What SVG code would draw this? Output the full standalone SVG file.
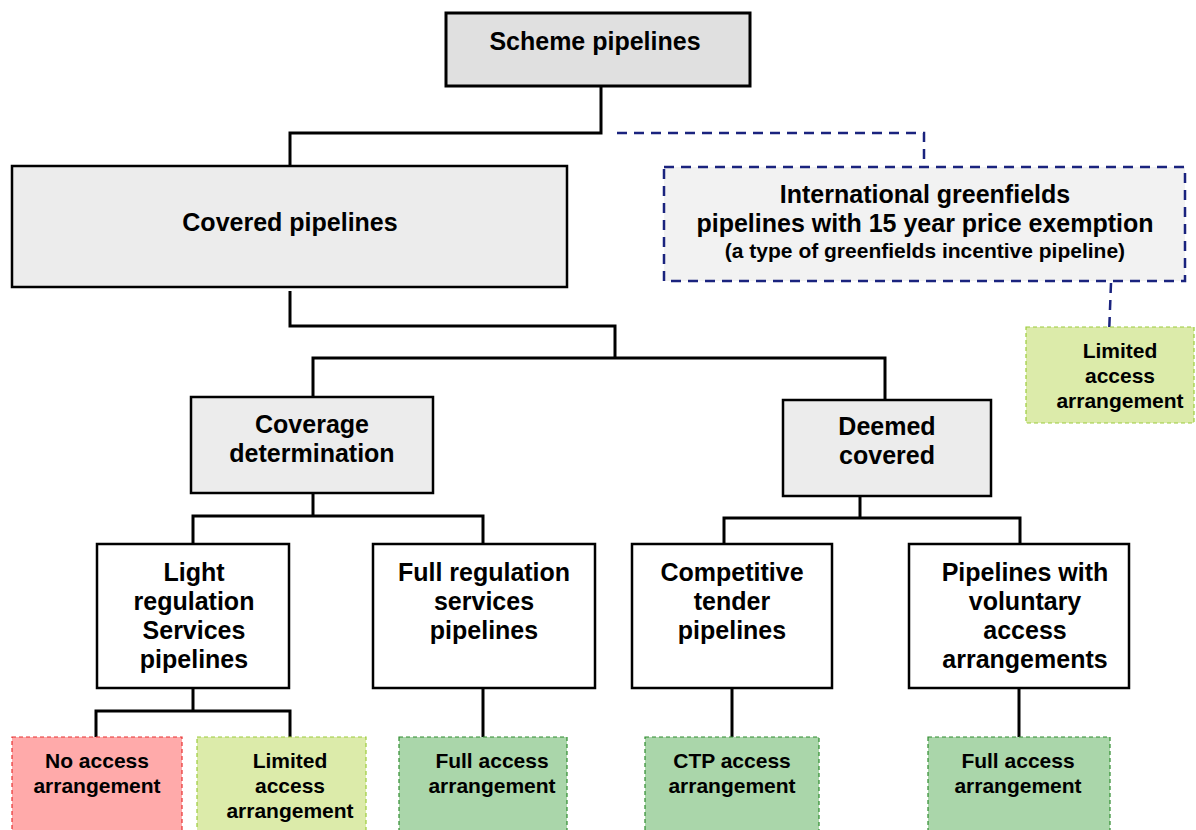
<svg xmlns="http://www.w3.org/2000/svg" width="1196" height="830" viewBox="0 0 1196 830">
<style>
text{font-family:"Liberation Sans",Arial,sans-serif;font-weight:bold;fill:#000;text-anchor:middle;dominant-baseline:central}
.t{font-size:25px}
.s{font-size:21px}
.x{font-size:21px}
.box{stroke:#000;stroke-width:2.5}
.grey{fill:#ececec}
.white{fill:#fff}
.red{fill:#ffaaaa;stroke:#e83030;stroke-width:1.2;stroke-dasharray:4 3}
.lim{fill:#dcebaa;stroke:#9ccc3c;stroke-width:1.2;stroke-dasharray:4 3}
.full{fill:#aad6aa;stroke:#2e8b2e;stroke-width:1.2;stroke-dasharray:4 3}
.ln{fill:none;stroke:#000;stroke-width:3}
.dl{fill:none;stroke:#1a237e;stroke-width:2.5;stroke-dasharray:10 7}
</style>
<g id="connectors">
<polyline class="ln" points="601,86 601,133 290,133 290,166"/>
<polyline class="dl" points="617,133 924,133 924,167"/>
<polyline class="dl" points="1111,283 1109,335"/>
<polyline class="ln" points="290,291 290,326 615,326 615,358"/>
<polyline class="ln" points="313,397 313,358 885,358 885,400"/>
<polyline class="ln" points="313,493 313,516"/>
<polyline class="ln" points="193,545 193,516 483,516 483,545"/>
<polyline class="ln" points="860,496 860,518"/>
<polyline class="ln" points="724,545 724,518 1020,518 1020,545"/>
<polyline class="ln" points="193,688 193,711"/>
<polyline class="ln" points="96,737 96,711 290,711 290,737"/>
<polyline class="ln" points="483,688 483,737"/>
<polyline class="ln" points="732,688 732,737"/>
<polyline class="ln" points="1019,688 1019,737"/>
</g>
<g id="scheme">
<rect x="446" y="13" width="304" height="73" fill="#e0e0e0" stroke="#000" stroke-width="3"/>
<text class="t" x="595" y="41">Scheme pipelines</text>
</g>
<g id="covered">
<rect class="box grey" x="12" y="166" width="555" height="121"/>
<text class="t" x="290" y="222">Covered pipelines</text>
</g>
<g id="international">
<rect x="664" y="167" width="521" height="114" fill="#f2f2f2" stroke="#1a237e" stroke-width="2.5" stroke-dasharray="10 7"/>
<text class="t" x="925" y="194">International greenfields</text>
<text class="t" x="925" y="223">pipelines with 15 year price exemption</text>
<text class="x" x="925" y="250">(a type of greenfields incentive pipeline)</text>
</g>
<g id="limited-intl">
<rect class="lim" x="1026" y="327" width="168" height="96"/>
<text class="s" x="1120" y="350">Limited</text>
<text class="s" x="1120" y="375">access</text>
<text class="s" x="1120" y="400">arrangement</text>
</g>
<g id="coverage">
<rect class="box grey" x="191" y="397" width="242" height="96"/>
<text class="t" x="312" y="424">Coverage</text>
<text class="t" x="312" y="453">determination</text>
</g>
<g id="deemed">
<rect class="box grey" x="783" y="400" width="208" height="96"/>
<text class="t" x="887" y="426">Deemed</text>
<text class="t" x="887" y="455">covered</text>
</g>
<g id="light">
<rect class="box white" x="97" y="544" width="192" height="144"/>
<text class="t" x="194" y="572">Light</text>
<text class="t" x="194" y="601">regulation</text>
<text class="t" x="194" y="630">Services</text>
<text class="t" x="194" y="659">pipelines</text>
</g>
<g id="fullreg">
<rect class="box white" x="373" y="544" width="222" height="144"/>
<text class="t" x="484" y="572">Full regulation</text>
<text class="t" x="484" y="601">services</text>
<text class="t" x="484" y="630">pipelines</text>
</g>
<g id="competitive">
<rect class="box white" x="632" y="544" width="200" height="144"/>
<text class="t" x="732" y="572">Competitive</text>
<text class="t" x="732" y="601">tender</text>
<text class="t" x="732" y="630">pipelines</text>
</g>
<g id="voluntary">
<rect class="box white" x="909" y="544" width="220" height="144"/>
<text class="t" x="1025" y="572">Pipelines with</text>
<text class="t" x="1025" y="601">voluntary</text>
<text class="t" x="1025" y="630">access</text>
<text class="t" x="1025" y="659">arrangements</text>
</g>
<g id="noaccess">
<rect class="red" x="12" y="737" width="170" height="100"/>
<text class="s" x="97" y="760">No access</text>
<text class="s" x="97" y="785">arrangement</text>
</g>
<g id="limited">
<rect class="lim" x="197" y="737" width="169" height="100"/>
<text class="s" x="290" y="760">Limited</text>
<text class="s" x="290" y="785">access</text>
<text class="s" x="290" y="810">arrangement</text>
</g>
<g id="fullaccess1">
<rect class="full" x="399" y="737" width="168" height="100"/>
<text class="s" x="492" y="760">Full access</text>
<text class="s" x="492" y="785">arrangement</text>
</g>
<g id="ctp">
<rect class="full" x="645" y="737" width="174" height="100"/>
<text class="s" x="732" y="760">CTP access</text>
<text class="s" x="732" y="785">arrangement</text>
</g>
<g id="fullaccess2">
<rect class="full" x="928" y="737" width="182" height="100"/>
<text class="s" x="1018" y="760">Full access</text>
<text class="s" x="1018" y="785">arrangement</text>
</g>
</svg>
